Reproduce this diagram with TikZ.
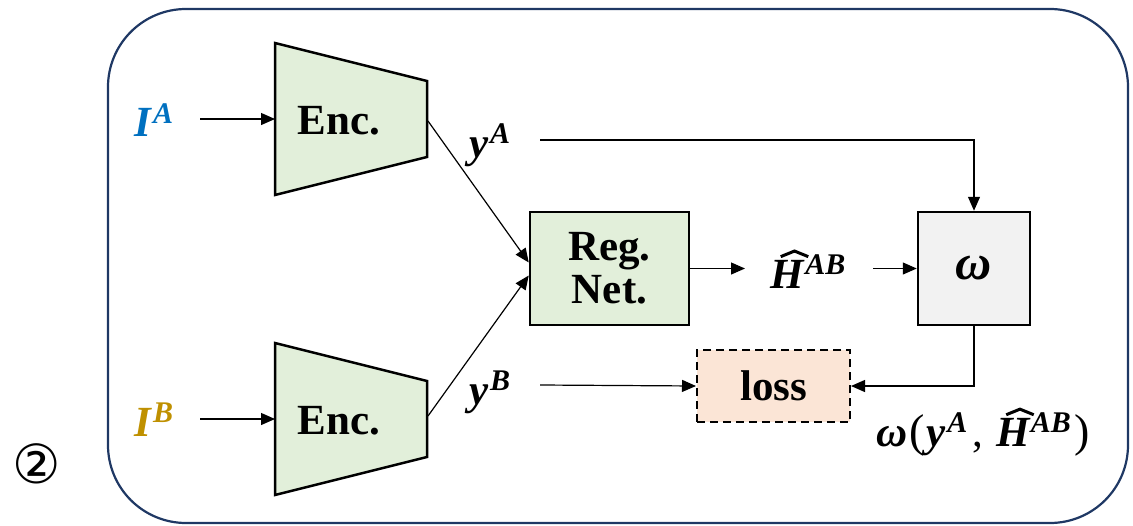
\documentclass[tikz,border=0pt]{standalone}
\usepackage{fontspec}
\setmainfont{Liberation Serif}
\newfontfamily\dejavu{DejaVu Sans}
\usetikzlibrary{arrows.meta,calc}
\definecolor{encgreen}{HTML}{E2EFDA}
\definecolor{omgray}{HTML}{F2F2F2}
\definecolor{losspeach}{HTML}{FBE5D6}
\definecolor{navy}{HTML}{1F3864}
\definecolor{iablue}{HTML}{0070C0}
\definecolor{ibgold}{HTML}{BF9000}
\newcommand\mysup[1]{\kern0.03em\raisebox{0.32em}{\fontsize{30}{30}\selectfont #1}}
\newcommand\myhat{\leavevmode\rlap{\hspace{0.2em}\raisebox{0.74em}{\tikz[x=1em,y=1em,baseline=0pt]\draw[line width=0.07em,line join=miter,line cap=butt] (0,0) -- (0.32,0.13) -- (0.64,0);}}H}
\begin{document}
\begin{tikzpicture}[x=1pt,y=-1pt,
  conn/.style={line width=1.2pt,-{Triangle[length=14pt,width=12pt]}},
  boxlbl/.style={font=\fontsize{43}{43}\selectfont\bfseries,align=center},
  mathlbl/.style={font=\fontsize{43}{43}\selectfont\bfseries\itshape,inner sep=0pt},
]
\useasboundingbox (0,0) rectangle (1133,525);
% outer frame
\draw[navy,line width=2.2pt,rounded corners=78pt] (108,9) rectangle (1128,523);
\node[font=\dejavu\fontsize{54}{54}\selectfont] (num) at (37,464) {②};

% encoders
\draw[line width=2.5pt,fill=encgreen] (275,43) -- (427,81) -- (427,157) -- (275,195) -- cycle;
\draw[line width=2.5pt,fill=encgreen] (275,343) -- (427,381) -- (427,457) -- (275,495) -- cycle;
\node[boxlbl] (encA) at (339,121) {Enc.};
\node[boxlbl] (encB) at (339,421) {Enc.};
\coordinate (encAin) at (275,119);
\coordinate (encBin) at (275,419);
\coordinate (encAout) at (428,121);
\coordinate (encBout) at (428,416);

% boxes
\node[draw,line width=2.5pt,fill=encgreen,minimum width=159pt,minimum height=113pt,boxlbl,inner sep=0pt] (reg) at (609.5,268.5) {\fontsize{43}{51}\selectfont Reg.\\ Net.};
\node[draw,line width=2.5pt,fill=omgray,minimum width=112pt,minimum height=113pt,inner sep=0pt,mathlbl] (omega) at (974,268.5) {\fontsize{50}{50}\selectfont ω};
\node[draw,line width=2pt,dashed,dash pattern=on 8pt off 5pt,fill=losspeach,minimum width=153pt,minimum height=72pt,boxlbl,inner sep=0pt] (loss) at (773.5,386) {loss};

% labels
\node[mathlbl,text=iablue] (IA) at (154,120) {I\mysup{A}};
\node[mathlbl,text=ibgold] (IB) at (154,420) {I\mysup{B}};
\node[mathlbl] (yA) at (490,145) {y\mysup{A}};
\node[mathlbl] (yB) at (490,392) {y\mysup{B}};
\node[mathlbl] (H) at (808,269) {\myhat\mysup{AB}};
\node[mathlbl,anchor=west] (wlbl) at (876,432) {ω\kern0.05em\mdseries\upshape\fontsize{46}{46}\selectfont(\fontsize{43}{43}\selectfont\kern0.05em\bfseries\itshape y\mysup{A}\kern0.12em\mdseries\upshape,\kern0.3em\bfseries\itshape\myhat\mysup{AB}\kern0.08em\mdseries\upshape\fontsize{46}{46}\selectfont)};

\coordinate (IAend) at (200,119);
\coordinate (IBend) at (200,419);
\coordinate (yAstart) at (540,140);
\coordinate (yBstart) at (540,385);
\coordinate (Hin) at (745,268.5);
\coordinate (Hout) at (873,268.5);

% connectors
\draw[conn] (IAend) -- (encAin);
\draw[conn] (IBend) -- (encBin);
\draw[conn] (encAout) -- ($(reg.west)+(0,-6)$);
\draw[conn] (encBout) -- ($(reg.west)+(0,7)$);
\draw[conn] (yAstart) -| (omega.north);
\draw[conn] (reg.east) -- (Hin);
\draw[conn] (Hout) -- (omega.west);
\draw[conn] (yBstart) -- (loss.west);
\draw[conn] (omega.south) |- (loss.east);
\end{tikzpicture}
\end{document}
